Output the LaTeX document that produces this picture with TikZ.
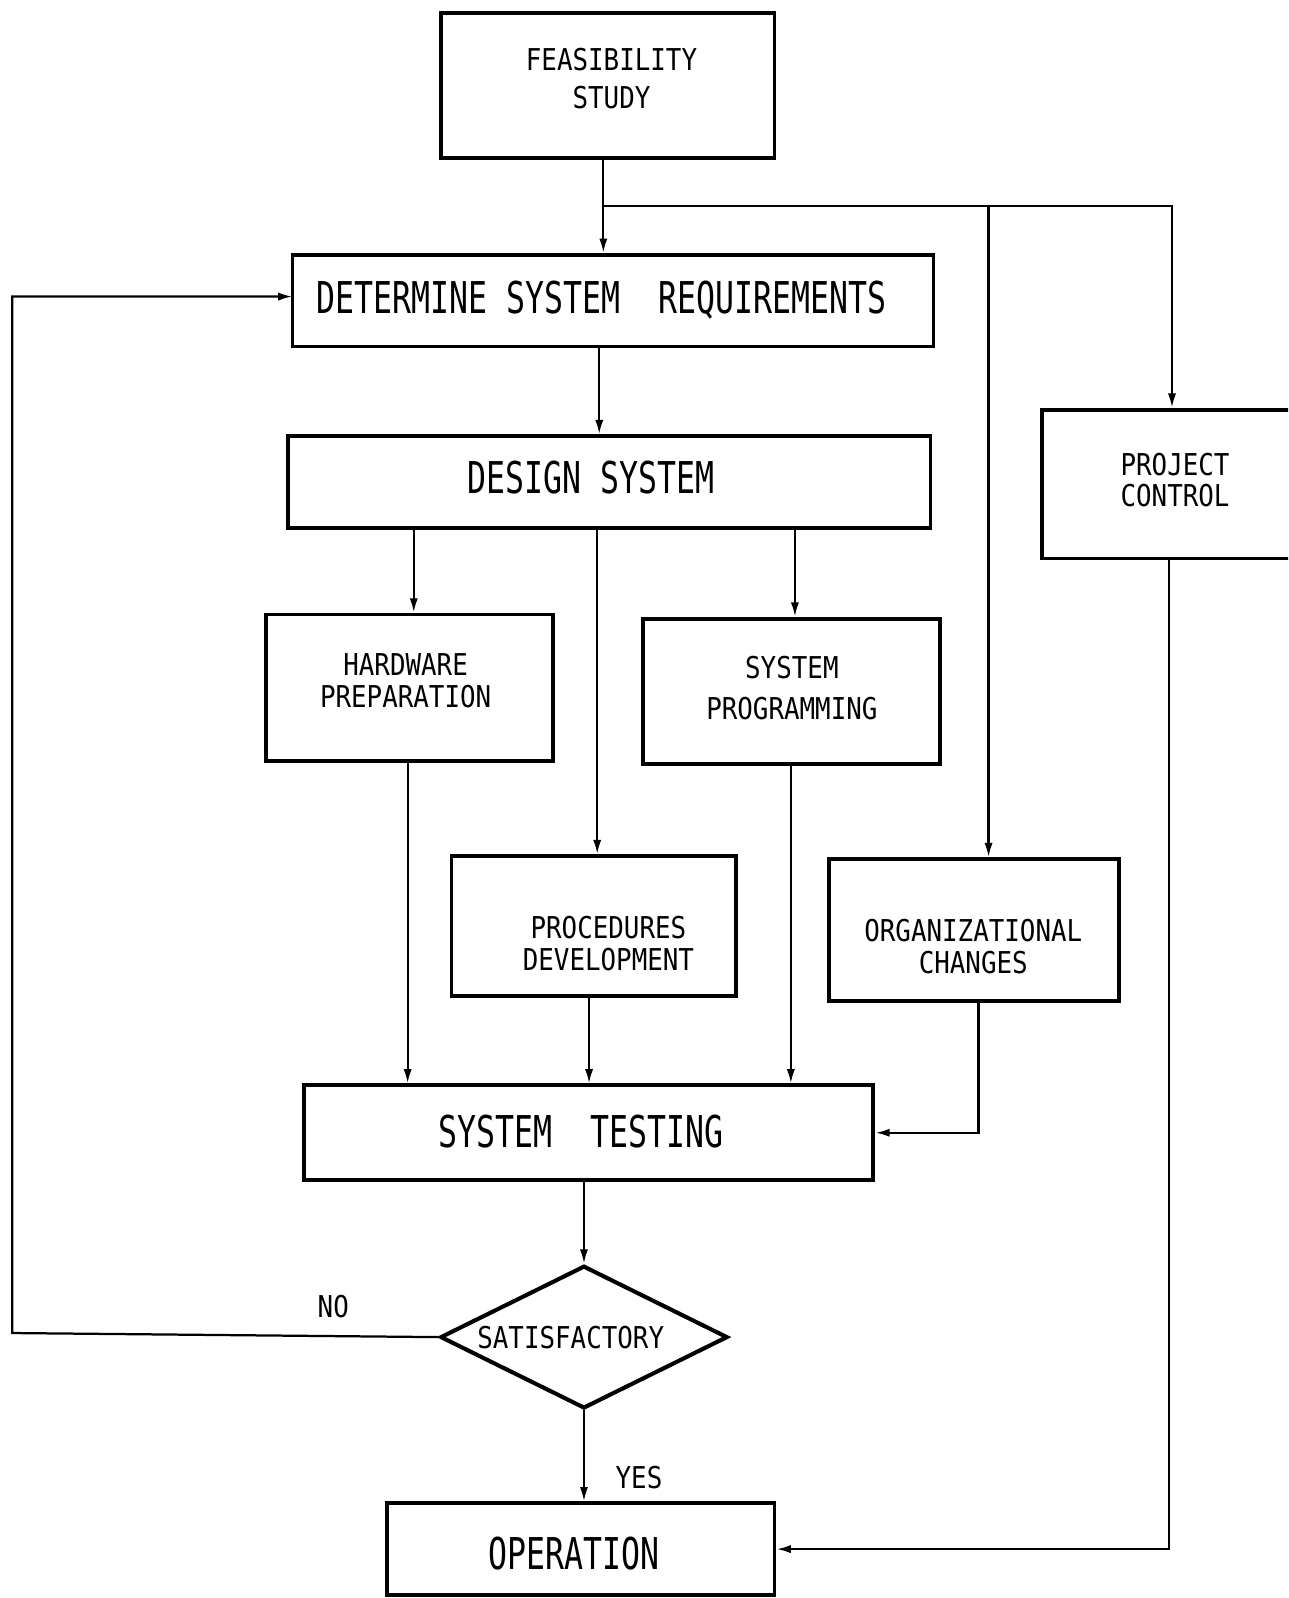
\documentclass[tikz,border=0pt]{standalone}
\usepackage{fontspec}
\usetikzlibrary{arrows.meta,shapes.geometric}
\newfontfamily\smallf{DejaVu Sans Mono}[FakeStretch=0.86]
\newfontfamily\bigf{DejaVu Sans Mono}[FakeStretch=0.72]
\begin{document}
\begin{tikzpicture}[x=1pt,y=-1pt,
  boxn/.style={draw, line width=3.8pt, rectangle, inner sep=0pt},
  decision/.style={draw, line width=4pt, diamond, inner sep=0pt, aspect=2},
  smalltxt/.style={align=center, inner sep=0pt, font=\smallf\fontsize{29.5}{31}\selectfont},
  bigtxt/.style={inner sep=0pt, font=\bigf\fontsize{43}{45}\selectfont},
  conn/.style={line width=2.2pt},
  arr/.style={conn, -{Latex[length=14pt,width=8pt]}}]
\useasboundingbox (0,0) rectangle (1264,1568);
\begin{scope}
\clip (0,0) rectangle (1264,1568);
% boxes
\node[boxn, minimum width=327pt, minimum height=142pt] (fs) at (596.5,84) {};
\node[boxn, minimum width=629pt, minimum height=90pt] (dsr) at (601.5,295) {};
\node[boxn, minimum width=630pt, minimum height=90pt] (ds) at (598,473) {};
\node[boxn, minimum width=282pt, minimum height=144pt] (hw) at (402,675) {};
\node[boxn, minimum width=291pt, minimum height=143pt] (sp) at (776.5,678.5) {};
\node[boxn, minimum width=279pt, minimum height=137pt] (pd) at (582.5,908.5) {};
\node[boxn, minimum width=285pt, minimum height=139pt] (oc) at (955.5,912.5) {};
\node[boxn, minimum width=256pt, minimum height=146pt] (pc) at (1150,475) {};
\node[boxn, minimum width=559pt, minimum height=93pt] (st) at (577.5,1111.5) {};
\node[decision, minimum width=282pt, minimum height=140pt] (dia) at (573,1312) {};
\node[boxn, minimum width=380pt, minimum height=90pt] (op) at (570,1520) {};
% texts
\node[smalltxt] (fs-t) at (600,77) {FEASIBILITY\\[6pt]STUDY};
\node[bigtxt] (dsr-t) at (590,294) {DETERMINE SYSTEM~ REQUIREMENTS};
\node[bigtxt] (ds-t) at (580,469) {DESIGN SYSTEM};
\node[smalltxt] (hw-t) at (398,668) {HARDWARE\\PREPARATION};
\node[smalltxt] (sp-t) at (777,675) {SYSTEM\\[9pt]PROGRAMMING};
\node[smalltxt] (pd-t) at (597,926) {PROCEDURES\\DEVELOPMENT};
\node[smalltxt] (oc-t) at (955,929) {ORGANIZATIONAL\\CHANGES};
\node[smalltxt] (pc-t) at (1153,471) {PROJECT\\CONTROL};
\node[bigtxt] (st-t) at (570,1110) {SYSTEM~ TESTING};
\node[smalltxt] (dia-t) at (560,1312) {SATISFACTORY};
\node[bigtxt] (op-t) at (563,1524) {OPERATION};
\node[smalltxt] (no) at (327,1282) {NO};
\node[smalltxt] (yes) at (627,1450) {YES};
% connector coordinates
\coordinate (J) at (592,202);
\coordinate (K) at (970,202);
\coordinate (L) at (12,1308);
\coordinate (P) at (1147,1520);
\coordinate (R) at (287,291);
% connectors
\draw[arr] (J |- fs.south) -- (J |- dsr.north);
\draw[conn] (J) -- (K);
\draw[arr] (K) -| (pc.north);
\draw[arr] (K) -- (K |- oc.north);
\draw[arr] (588,0 |- dsr.south) -- (588,0 |- ds.north);
\draw[arr] (406,0 |- ds.south) -- (406,0 |- hw.north);
\draw[arr] (586,0 |- ds.south) -- (586,0 |- pd.north);
\draw[arr] (780,0 |- ds.south) -- (780,0 |- sp.north);
\draw[arr] (400,0 |- hw.south) -- (400,0 |- st.north);
\draw[arr] (578,0 |- pd.south) -- (578,0 |- st.north);
\draw[arr] (776,0 |- sp.south) -- (776,0 |- st.north);
\draw[arr] (960,0 |- oc.south) |- (st.east);
\draw[arr] (dia.north |- st.south) -- (dia.north);
\draw[arr] (dia.west) -- (L) |- (R);
\draw[arr] (dia.south) -- (dia.south |- op.north);
\draw[arr] (P |- pc.south) -- (P) -- (op.east);
\end{scope}
\end{tikzpicture}
\end{document}
